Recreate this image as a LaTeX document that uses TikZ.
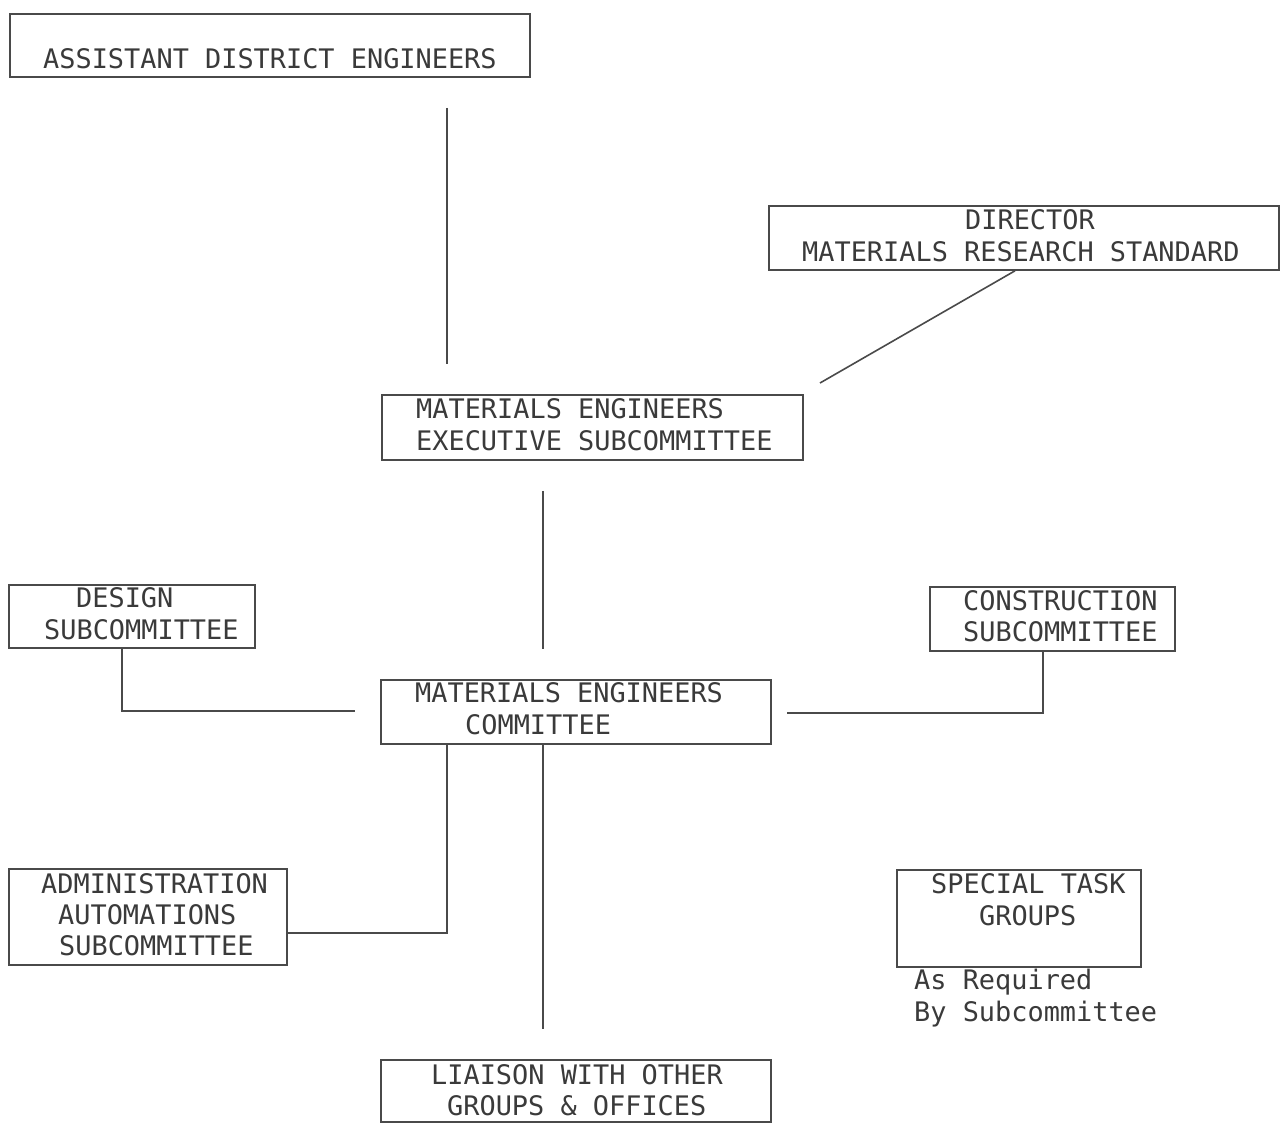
\documentclass[tikz,border=0pt]{standalone}
\usepackage{fontspec}
\newfontfamily\tw{DejaVu Sans Mono}
\definecolor{ink}{HTML}{3A3A3A}
\definecolor{rule}{HTML}{4A4A4A}
\begin{document}
\begin{tikzpicture}[x=1pt,y=-1pt,
  box/.style={draw=rule,line width=1.6pt,rectangle,inner sep=0pt},
  txt/.style={anchor=west,inner sep=0pt,text=ink,font=\tw\fontsize{26.9}{31.5}\selectfont,text height=19.6pt,text depth=0pt},
  conn/.style={draw=rule,line width=1.6pt},
  gap/.style={shorten <=30pt,shorten >=30pt}]
\useasboundingbox[fill=white] (0,0) rectangle (1281,1124);
% boxes
\node[box,minimum width=520pt,minimum height=63pt] (ade) at (270,45.5) {};
\node[box,minimum width=510pt,minimum height=64pt] (dir) at (1024,238) {};
\node[box,minimum width=421pt,minimum height=65pt] (exec) at (592.5,427.5) {};
\node[box,minimum width=246pt,minimum height=63pt] (design) at (132,616.5) {};
\node[box,minimum width=245pt,minimum height=64pt] (constr) at (1052.5,619) {};
\node[box,minimum width=390pt,minimum height=64pt] (comm) at (576,712) {};
\node[box,minimum width=278pt,minimum height=96pt] (admin) at (148,917) {};
\node[box,minimum width=244pt,minimum height=97pt] (task) at (1019,918.5) {};
\node[box,minimum width=390pt,minimum height=62pt] (liaison) at (576,1091) {};
% texts
\node[txt] (t1) at (43,59) {ASSISTANT DISTRICT ENGINEERS};
\node[txt] (t2a) at (965,220) {DIRECTOR};
\node[txt] (t2b) at (802,252) {MATERIALS RESEARCH STANDARD};
\node[txt] (t3a) at (416,409) {MATERIALS ENGINEERS};
\node[txt] (t3b) at (416,441) {EXECUTIVE SUBCOMMITTEE};
\node[txt] (t4a) at (76,598) {DESIGN};
\node[txt] (t4b) at (44,630) {SUBCOMMITTEE};
\node[txt] (t5a) at (963,601) {CONSTRUCTION};
\node[txt] (t5b) at (963,632) {SUBCOMMITTEE};
\node[txt] (t6a) at (415,693) {MATERIALS ENGINEERS};
\node[txt] (t6b) at (465,725) {COMMITTEE};
\node[txt] (t7a) at (41,884) {ADMINISTRATION};
\node[txt] (t7b) at (58,915) {AUTOMATIONS};
\node[txt] (t7c) at (59,946) {SUBCOMMITTEE};
\node[txt] (t8a) at (931,884) {SPECIAL TASK};
\node[txt] (t8b) at (979,916) {GROUPS};
\node[txt] (t8c) at (914,980) {As Required};
\node[txt] (t8d) at (914,1012) {By Subcommittee};
\node[txt] (t9a) at (431,1075) {LIAISON WITH OTHER};
\node[txt] (t9b) at (447,1106) {GROUPS \& OFFICES};
% free ends
\coordinate (diagEnd) at (820,383);
\coordinate (designEnd) at (355,711);
\coordinate (constrEnd) at (787,713);
% connectors
\draw[conn,gap] (ade.south -| 447,0) -- (exec.north -| 447,0);
\draw[conn] (dir.south -| 1015,0) -- (diagEnd);
\draw[conn,gap] (exec.south -| 543,0) -- (comm.north -| 543,0);
\draw[conn] (design.south -| 122,0) |- (designEnd);
\draw[conn] (constr.south -| 1043,0) |- (constrEnd);
\draw[conn] (admin.east |- 0,933) -| (comm.south -| 447,0);
\draw[conn,shorten >=30pt] (comm.south -| 543,0) -- (liaison.north -| 543,0);
\end{tikzpicture}
\end{document}
